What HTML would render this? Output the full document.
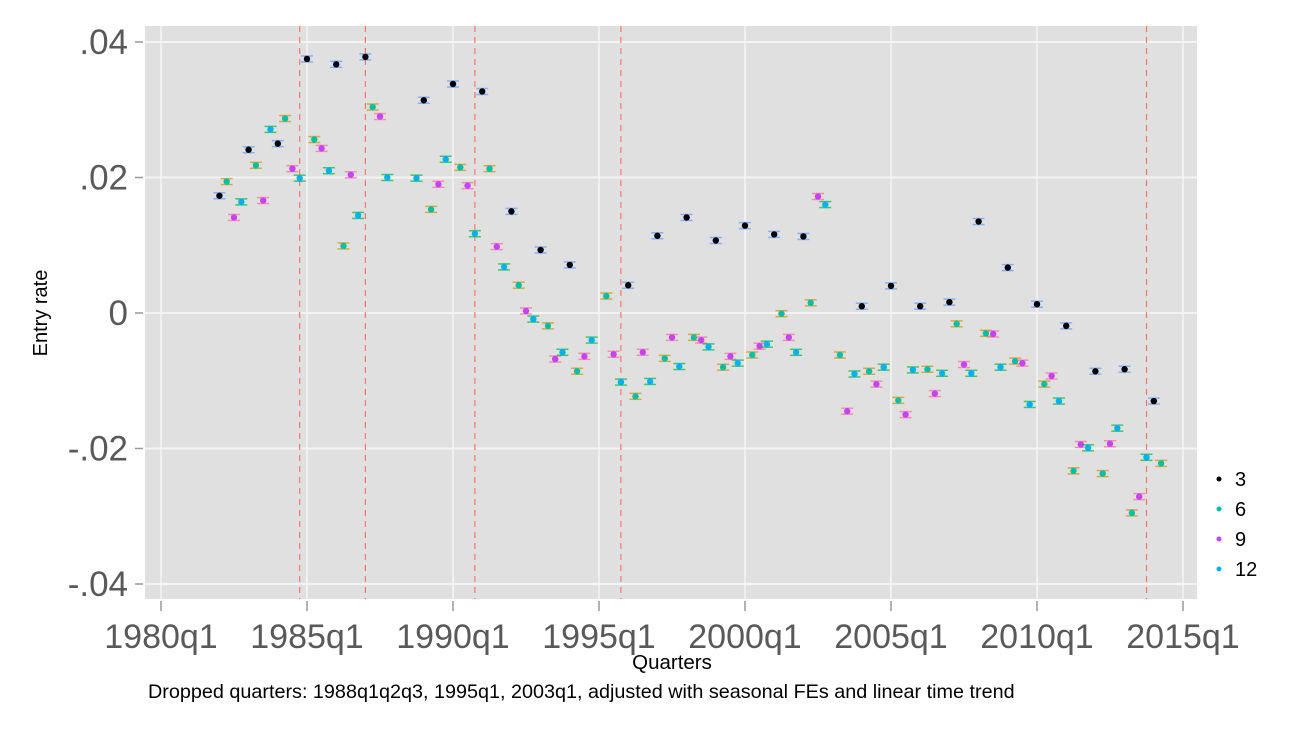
<!DOCTYPE html>
<html><head><meta charset="utf-8"><style>
body{margin:0;background:#fff;}
svg text{font-family:"Liberation Sans",Arial,sans-serif;}
</style></head><body>
<svg id="chart" width="1305" height="734" xmlns="http://www.w3.org/2000/svg">
<rect x="0" y="0" width="1305" height="734" fill="#fff"/>
<rect x="145" y="26" width="1052" height="573" fill="#e0e0e0"/>
<g id="grid"></g><g id="events"></g><g id="marks"></g><g id="axes"></g>
<text x="47" y="313" font-size="20" text-anchor="middle" transform="rotate(-90 47 313)">Entry rate</text>
<text x="672" y="669" font-size="20.5" text-anchor="middle">Quarters</text>
<text x="148" y="698" font-size="19.8">Dropped quarters: 1988q1q2q3, 1995q1, 2003q1, adjusted with seasonal FEs and linear time trend</text>
<g id="legend"></g>
</svg>
<script>
const startYear = 1982;
const seriesNames = ["3","6","9","12"];
// entry rate (x1000) per quarter, 1982q1 onward; null = dropped
const values = [
17.3,19.4,14.1,16.4, 24.1,21.8,16.6,27.1, 25.0,28.7,21.3,19.9, 37.5,25.6,24.3,21.0,
36.7,9.9,20.4,14.4, 37.8,30.4,29.0,20.0, null,null,null,19.9, 31.4,15.3,19.0,22.7,
33.8,21.5,18.8,11.7, 32.7,21.3,9.8,6.8, 15.0,4.1,0.3,-0.9, 9.3,-1.9,-6.8,-5.8,
7.1,-8.6,-6.4,-4.0, null,2.5,-6.1,-10.2, 4.1,-12.3,-5.8,-10.1, 11.4,-6.7,-3.6,-7.9,
14.1,-3.6,-4.0,-5.0, 10.7,-8.0,-6.4,-7.4, 12.9,-6.2,-4.9,-4.6, 11.6,-0.1,-3.6,-5.8,
11.3,1.5,17.2,16.0, null,-6.2,-14.5,-9.0, 1.0,-8.6,-10.5,-8.0, 4.0,-12.9,-15.0,-8.4,
1.0,-8.3,-11.9,-8.9, 1.6,-1.6,-7.6,-8.9, 13.5,-3.0,-3.1,-8.0, 6.7,-7.1,-7.4,-13.5,
1.3,-10.5,-9.3,-13.0, -1.9,-23.3,-19.4,-19.9, -8.6,-23.7,-19.3,-17.0, -8.3,-29.5,-27.1,-21.3,
-13.0,-22.2];
const eventQuarters = [1984.75, 1987.0, 1990.75, 1995.75, 2013.75];
const yTicks = [0.04,0.02,0,-0.02,-0.04];
const yTickLabels = [".04",".02","0","-.02","-.04"];
const xTicks = [1980,1985,1990,1995,2000,2005,2010,2015];
const xTickLabels = ["1980q1","1985q1","1990q1","1995q1","2000q1","2005q1","2010q1","2015q1"];

const ptColor = ["#000000","#00BFA4","#C542FF","#00B0F6"];
const capColor = ["#619CFF","#D39200","#FF6C91","#00BA38"];
const NS="http://www.w3.org/2000/svg";
const xS = t => 161 + (t-1980)*29.2;
const yS = v => 313 - v/0.02*135.5;
function mk(tag, attrs, parent){const e=document.createElementNS(NS,tag);for(const k in attrs)e.setAttribute(k,attrs[k]);parent.appendChild(e);return e;}
const grid=document.getElementById('grid'), ev=document.getElementById('events'), marks=document.getElementById('marks'), axes=document.getElementById('axes'), leg=document.getElementById('legend');
yTicks.forEach((v,i)=>{
  const y=yS(v);
  const g=mk('line',{x1:145,x2:1197,y1:y,y2:y,stroke:'#f4f4f4','stroke-width':2},grid);
  
  
  const tk=mk('line',{x1:135,x2:143,y1:y,y2:y,stroke:'#999','stroke-width':1.5},axes);
  
  
  const t=mk('text',{x:128,y:y+12,'font-size':35,'text-anchor':'end',fill:'#595959'},axes);
  
  
  t.textContent=yTickLabels[i];
});
xTicks.forEach((v,i)=>{
  const x=xS(v);
  const g=mk('line',{x1:x,x2:x,y1:26,y2:599,stroke:'#f4f4f4','stroke-width':1.5},grid);
  
  
  const tk=mk('line',{x1:x,x2:x,y1:601,y2:611,stroke:'#999','stroke-width':1.5},axes);
  
  
  const t=mk('text',{x:x,y:648,'font-size':34,'text-anchor':'middle',fill:'#595959'},axes);
  
  
  t.textContent=xTickLabels[i];
});
eventQuarters.forEach(q=>{
  const x=xS(q);
  const l=mk('line',{x1:x,x2:x,y1:26,y2:599,stroke:'#F8766D','stroke-width':1.2,'stroke-dasharray':'6,5'},ev);
  
  
});
values.forEach((v,i)=>{
  if(v===null)return;
  const s=i%4, t=startYear+i/4, x=xS(t), y=yS(v/1000);
  const g=mk('g',{},marks);
  
  
  mk('line',{x1:x-6,x2:x+6,y1:y-3,y2:y-3,stroke:capColor[s],'stroke-width':1.5,opacity:0.7},g);
  mk('line',{x1:x-6,x2:x+6,y1:y+3,y2:y+3,stroke:capColor[s],'stroke-width':1.5,opacity:0.7},g);
  mk('line',{x1:x,x2:x,y1:y-3,y2:y+3,stroke:capColor[s],'stroke-width':1.5,opacity:0.7},g);
  mk('circle',{cx:x,cy:y,r:3.2,fill:ptColor[s]},g);
});
seriesNames.forEach((n,i)=>{
  const y=479+i*30;
  const g=mk('g',{},leg);
  
  
  mk('circle',{cx:1219,cy:y,r:2.5,fill:ptColor[i]},g);
  const t=mk('text',{x:1235,y:y+7,'font-size':20,fill:'#000'},g);
  t.textContent=n;
});
</script>
</body></html>
